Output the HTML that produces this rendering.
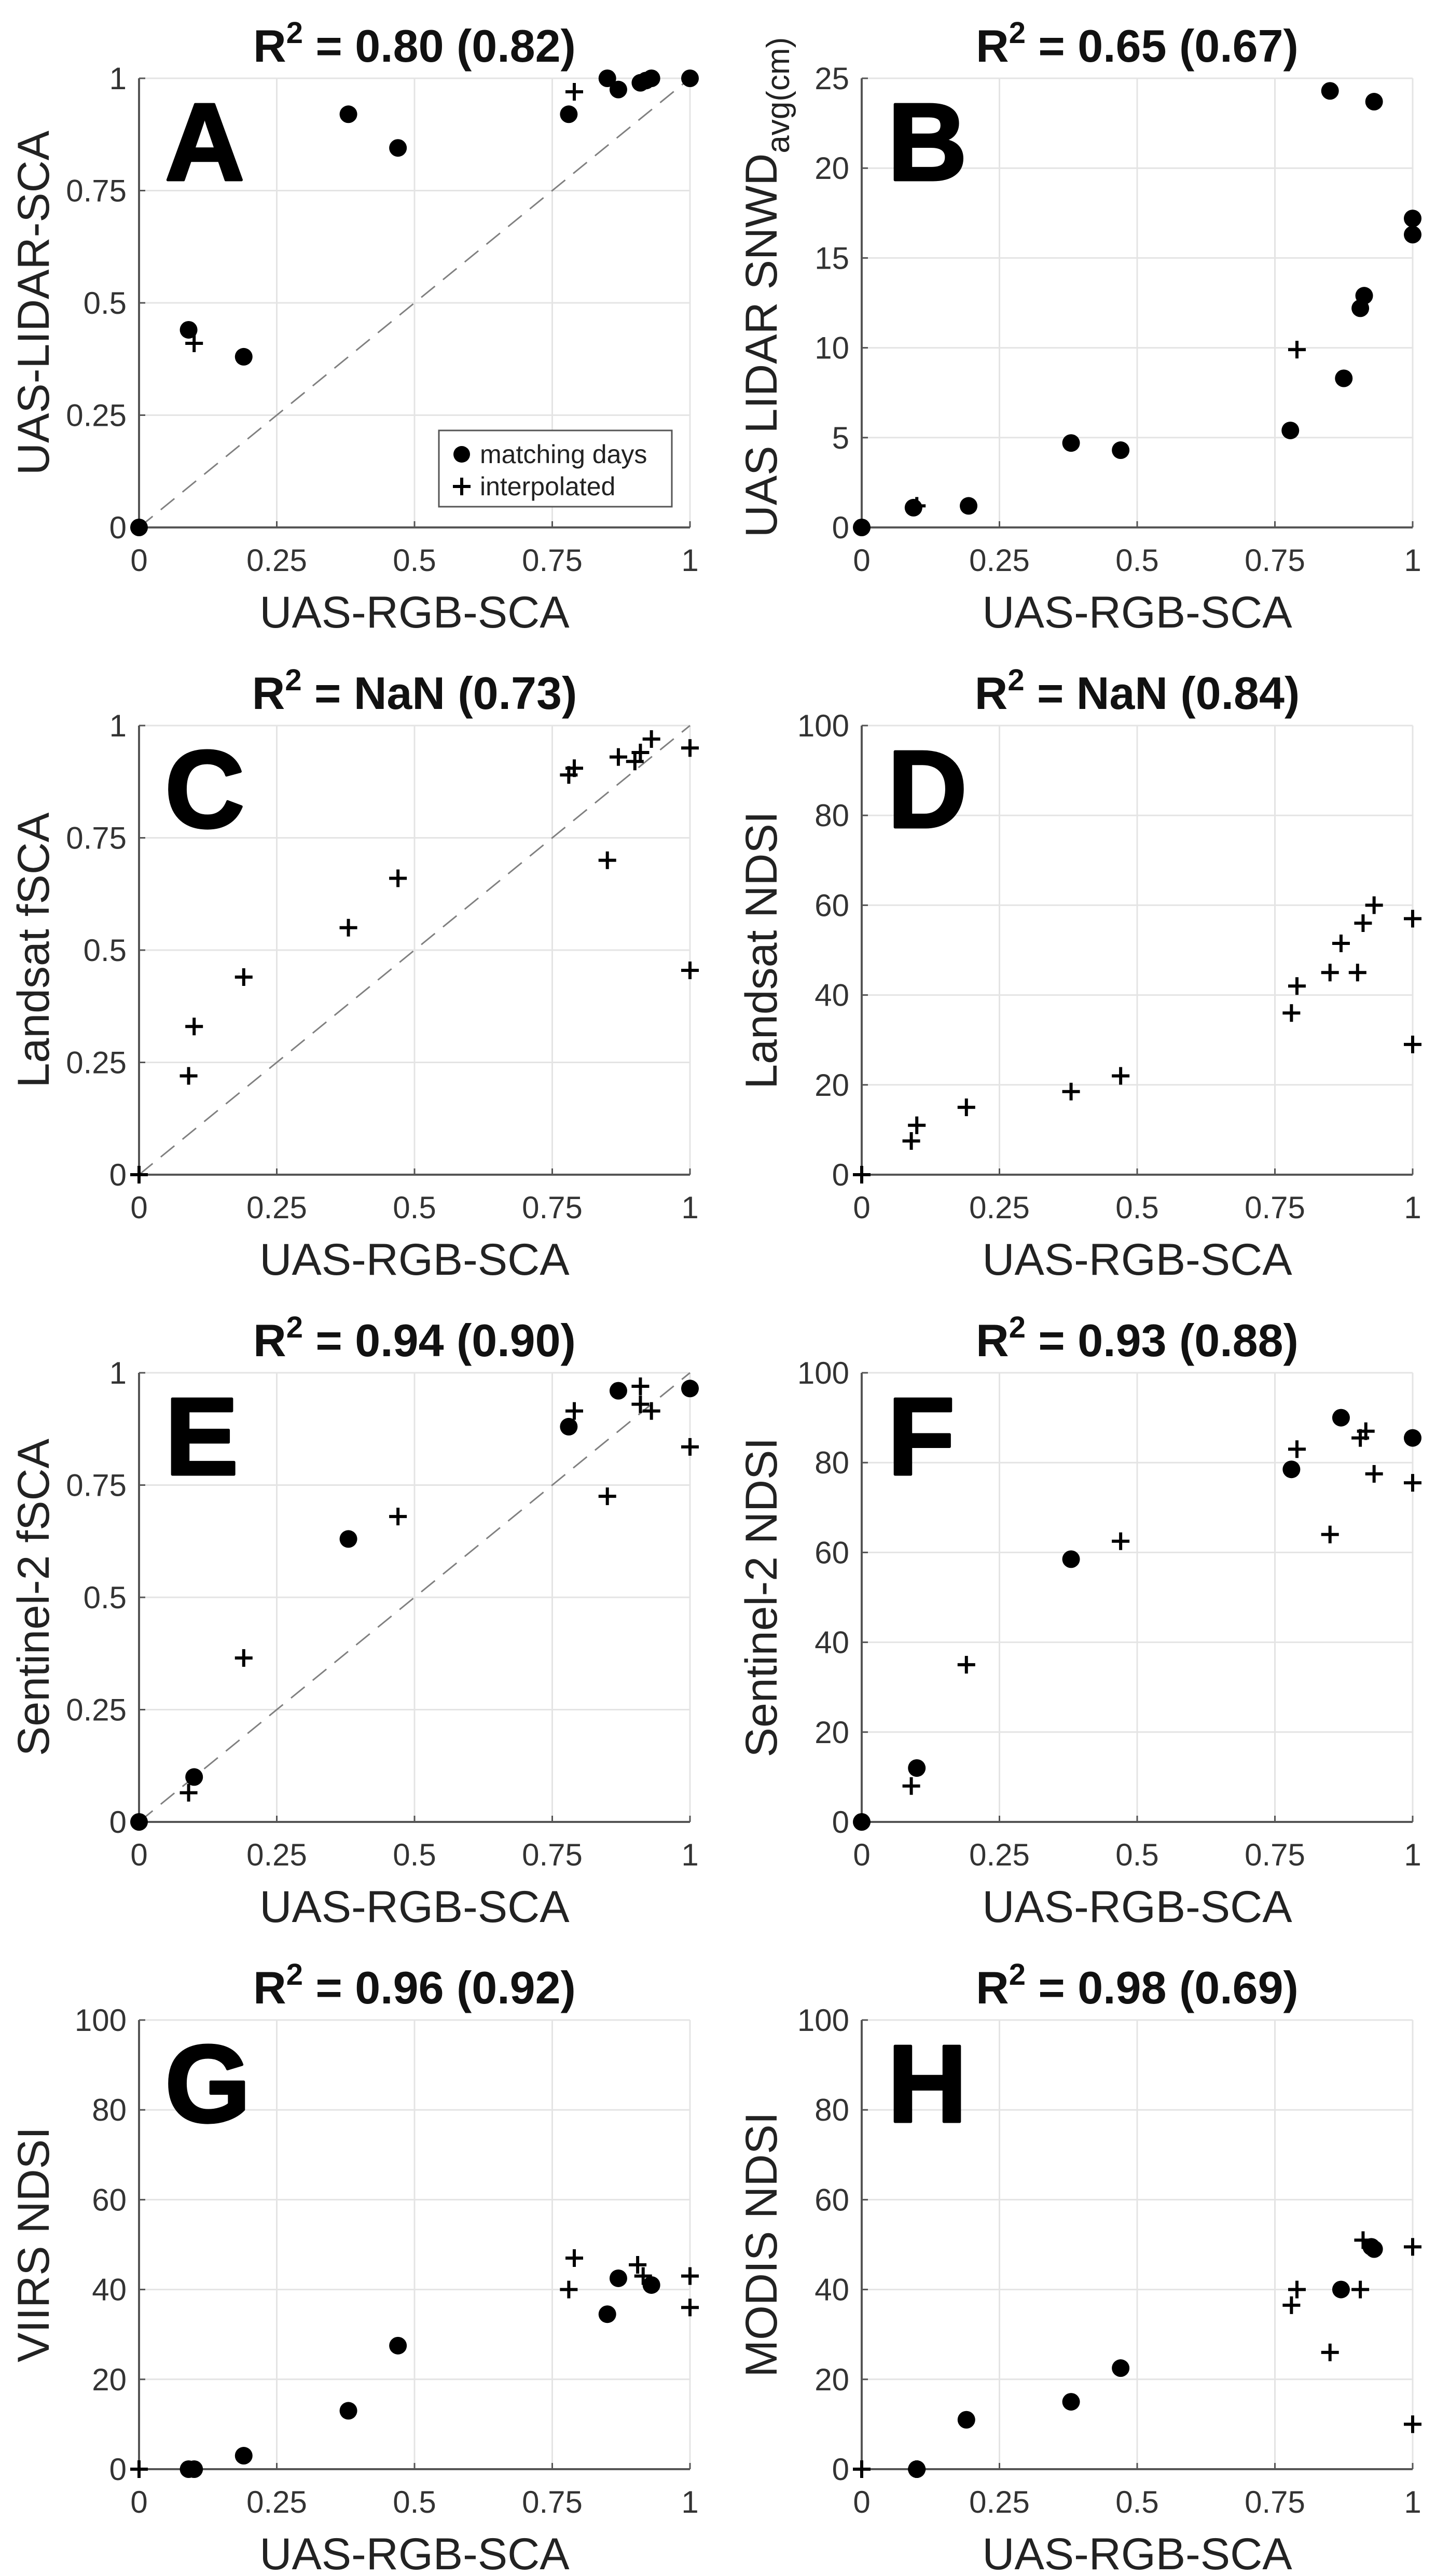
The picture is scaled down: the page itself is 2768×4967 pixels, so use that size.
<!DOCTYPE html>
<html><head><meta charset="utf-8"><style>
html,body{margin:0;padding:0;background:#fff;}
svg{display:block;font-family:"Liberation Sans",Arial,sans-serif;}
</style></head><body>
<svg id="fig" width="2768" height="4967" viewBox="0 0 2768 4967" xmlns="http://www.w3.org/2000/svg"></svg>
<script>
// ---- data ----
const xTicks01 = [0, 0.25, 0.5, 0.75, 1];
const xTickLabels = ["0", "0.25", "0.5", "0.75", "1"];
const yTicks01 = [0, 0.25, 0.5, 0.75, 1];
const yTickLabels01 = ["0", "0.25", "0.5", "0.75", "1"];
const yTicksB = [0, 5, 10, 15, 20, 25];
const yTicksNDSI = [0, 20, 40, 60, 80, 100];

const panelLetters = ["A","B","C","D","E","F","G","H"];
const panelTitles = ["0.80 (0.82)","0.65 (0.67)","NaN (0.73)","NaN (0.84)","0.94 (0.90)","0.93 (0.88)","0.96 (0.92)","0.98 (0.69)"];
const yLabels = ["UAS-LIDAR-SCA","UAS LIDAR SNWD","Landsat fSCA","Landsat NDSI","Sentinel-2 fSCA","Sentinel-2 NDSI","VIIRS NDSI","MODIS NDSI"];

const aCircX = [0,0.09,0.19,0.38,0.47,0.78,0.85,0.87,0.91,0.92,0.93,1.0];
const aCircY = [0,0.44,0.38,0.92,0.845,0.92,1.0,0.975,0.99,0.995,1.0,1.0];
const aPlusX = [0.10,0.79];
const aPlusY = [0.41,0.97];

const bCircX = [0,0.094,0.194,0.38,0.47,0.778,0.85,0.875,0.905,0.912,0.93,1.0,1.0];
const bCircY = [0,1.1,1.2,4.7,4.3,5.4,24.3,8.3,12.2,12.9,23.7,17.2,16.3];
const bPlusX = [0.10,0.79];
const bPlusY = [1.2,9.9];

const cCircX = [];
const cCircY = [];
const cPlusX = [0,0.09,0.10,0.19,0.38,0.47,0.78,0.79,0.87,0.90,0.91,0.93,0.85,1.0,1.0];
const cPlusY = [0,0.22,0.33,0.44,0.55,0.66,0.89,0.905,0.93,0.92,0.94,0.97,0.70,0.95,0.455];

const dCircX = [];
const dCircY = [];
const dPlusX = [0,0.09,0.10,0.19,0.38,0.47,0.78,0.79,0.85,0.87,0.90,0.91,0.93,1.0,1.0];
const dPlusY = [0,7.5,11,15,18.5,22,36,42,45,51.5,45,56,60,57,29];

const eCircX = [0,0.10,0.38,0.78,0.87,1.0];
const eCircY = [0,0.10,0.63,0.88,0.96,0.965];
const ePlusX = [0.09,0.19,0.47,0.79,0.85,0.91,0.91,0.93,1.0];
const ePlusY = [0.065,0.365,0.68,0.915,0.725,0.97,0.93,0.915,0.835];

const fCircX = [0,0.10,0.38,0.78,0.87,1.0];
const fCircY = [0,12,58.5,78.5,90,85.5];
const fPlusX = [0.09,0.19,0.47,0.79,0.85,0.905,0.915,0.93,1.0];
const fPlusY = [8,35,62.5,83,64,85.5,87,77.5,75.5];

const gCircX = [0.09,0.10,0.19,0.38,0.47,0.85,0.87,0.93];
const gCircY = [0,0,3,13,27.5,34.5,42.5,41];
const gPlusX = [0,0.78,0.79,0.905,0.915,1.0,1.0];
const gPlusY = [0,40,47,45.5,43,43,36];

const hCircX = [0.10,0.19,0.38,0.47,0.87,0.925,0.93];
const hCircY = [0,11,15,22.5,40,49.5,49];
const hPlusX = [0,0.10,0.78,0.79,0.85,0.91,0.905,1.0,1.0];
const hPlusY = [0,0,36.5,40,26,51,40,49.5,10];

const circXs=[aCircX,bCircX,cCircX,dCircX,eCircX,fCircX,gCircX,hCircX];
const circYs=[aCircY,bCircY,cCircY,dCircY,eCircY,fCircY,gCircY,hCircY];
const plusXs=[aPlusX,bPlusX,cPlusX,dPlusX,ePlusX,fPlusX,gPlusX,hPlusX];
const plusYs=[aPlusY,bPlusY,cPlusY,dPlusY,ePlusY,fPlusY,gPlusY,hPlusY];

// ---- layout ----
const NS="http://www.w3.org/2000/svg";
const svg=document.getElementById("fig");
function mk(tag,attrs,parent){const e=document.createElementNS(NS,tag);for(const k in attrs)e.setAttribute(k,attrs[k]);(parent||svg).appendChild(e);return e;}
const W=1062,H=866;
const lefts=[268,1661];
for(let p=0;p<8;p++){
  const col=p%2,row=Math.floor(p/2);
  const L=lefts[col],T=151+row*1248;
  let yMax=1,yT=yTicks01,yTL=yTickLabels01;
  if(p===1){yMax=25;yT=yTicksB;yTL=yTicksB.map(String);}
  else if(p===3||p>=5){yMax=100;yT=yTicksNDSI;yTL=yTicksNDSI.map(String);}
  const sx=v=>L+v*W, sy=v=>T+H-(v/yMax)*H;
  const g=mk("g",{});
  
  
  xTicks01.forEach(t=>{if(t>0){const l=mk("line",{x1:sx(t),x2:sx(t),y1:T,y2:T+H,stroke:"#e4e4e4","stroke-width":3},g);}});
  yT.forEach(t=>{if(t>0){const l=mk("line",{x1:L,x2:L+W,y1:sy(t),y2:sy(t),stroke:"#e4e4e4","stroke-width":3},g);}});
  const ax=mk("path",{d:`M${L} ${T}V${T+H}H${L+W}`,stroke:"#555",fill:"none","stroke-width":4},g);
  
  xTicks01.forEach((t,i)=>{
    mk("line",{x1:sx(t),x2:sx(t),y1:T+H,y2:T+H-12,stroke:"#555","stroke-width":3},g);
    const tx=mk("text",{x:sx(t),y:T+H+84,"font-size":60,"text-anchor":"middle",fill:"#333"},g);
    tx.textContent=xTickLabels[i];
  });
  yT.forEach((t,i)=>{
    mk("line",{x1:L,x2:L+12,y1:sy(t),y2:sy(t),stroke:"#555","stroke-width":3},g);
    const tx=mk("text",{x:L-24,y:sy(t)+21,"font-size":60,"text-anchor":"end",fill:"#333"},g);
    tx.textContent=yTL[i];
  });
  if(p===0||p===2||p===4){const d=mk("line",{x1:sx(0),y1:sy(0),x2:sx(1),y2:sy(1),stroke:"#808080","stroke-width":3,"stroke-dasharray":"34 20"},g);}
  const tt=mk("text",{x:L+W/2,y:T-32,"font-size":88,"font-weight":"bold","text-anchor":"middle",fill:"#111"},g);
  
  const t1=mk("tspan",{},tt);t1.textContent="R";
  const t2=mk("tspan",{dy:-36,"font-size":58},tt);t2.textContent="2";
  const t3=mk("tspan",{dy:36},tt);t3.textContent=" = "+panelTitles[p];
  const lt=mk("text",{x:L+50,y:T+196,"font-size":212,"font-weight":"bold",fill:"#000",stroke:"#000","stroke-width":5,"stroke-linejoin":"round"},g);
  lt.textContent=panelLetters[p];
  const xl=mk("text",{x:L+W/2,y:T+H+193,"font-size":86,"text-anchor":"middle",fill:"#222"},g);
  xl.textContent="UAS-RGB-SCA";
  const yx=col===0?94:1497;
  const yl=mk("text",{x:0,y:0,"font-size":86,"text-anchor":"middle",fill:"#222",transform:`translate(${yx},${T+H/2}) rotate(-90)`},g);
  
  if(p===1){const a=mk("tspan",{},yl);a.textContent="UAS LIDAR SNWD";const b=mk("tspan",{dy:24,"font-size":62},yl);b.textContent="avg(cm)";yl.setAttribute("transform",`translate(${yx},${T+H/2-30}) rotate(-90)`);}
  else yl.textContent=yLabels[p];
  circXs[p].forEach((v,i)=>{
    const c=mk("circle",{cx:sx(v),cy:sy(circYs[p][i]),r:17,fill:"#000"},g);
    
    
  });
  plusXs[p].forEach((v,i)=>{
    const x=sx(v),y=sy(plusYs[p][i]);
    const pl=mk("path",{d:`M${x-17} ${y}H${x+17}M${x} ${y-17}V${y+17}`,stroke:"#000","stroke-width":6},g);
    
    
  });
  if(p===0){
    const lg=mk("g",{},g);
    
    mk("rect",{x:846,y:830,width:449,height:147,fill:"#fff",stroke:"#555","stroke-width":3},lg);
    mk("circle",{cx:890,cy:876,r:16,fill:"#000"},lg);
    const e1=mk("text",{x:925,y:893,"font-size":50,fill:"#222"},lg);e1.textContent="matching days";
    
    mk("path",{d:"M873 938H907M890 921V955",stroke:"#000","stroke-width":6},lg);
    const e2=mk("text",{x:925,y:955,"font-size":50,fill:"#222"},lg);e2.textContent="interpolated";
    
  }
}
</script>
</body></html>
